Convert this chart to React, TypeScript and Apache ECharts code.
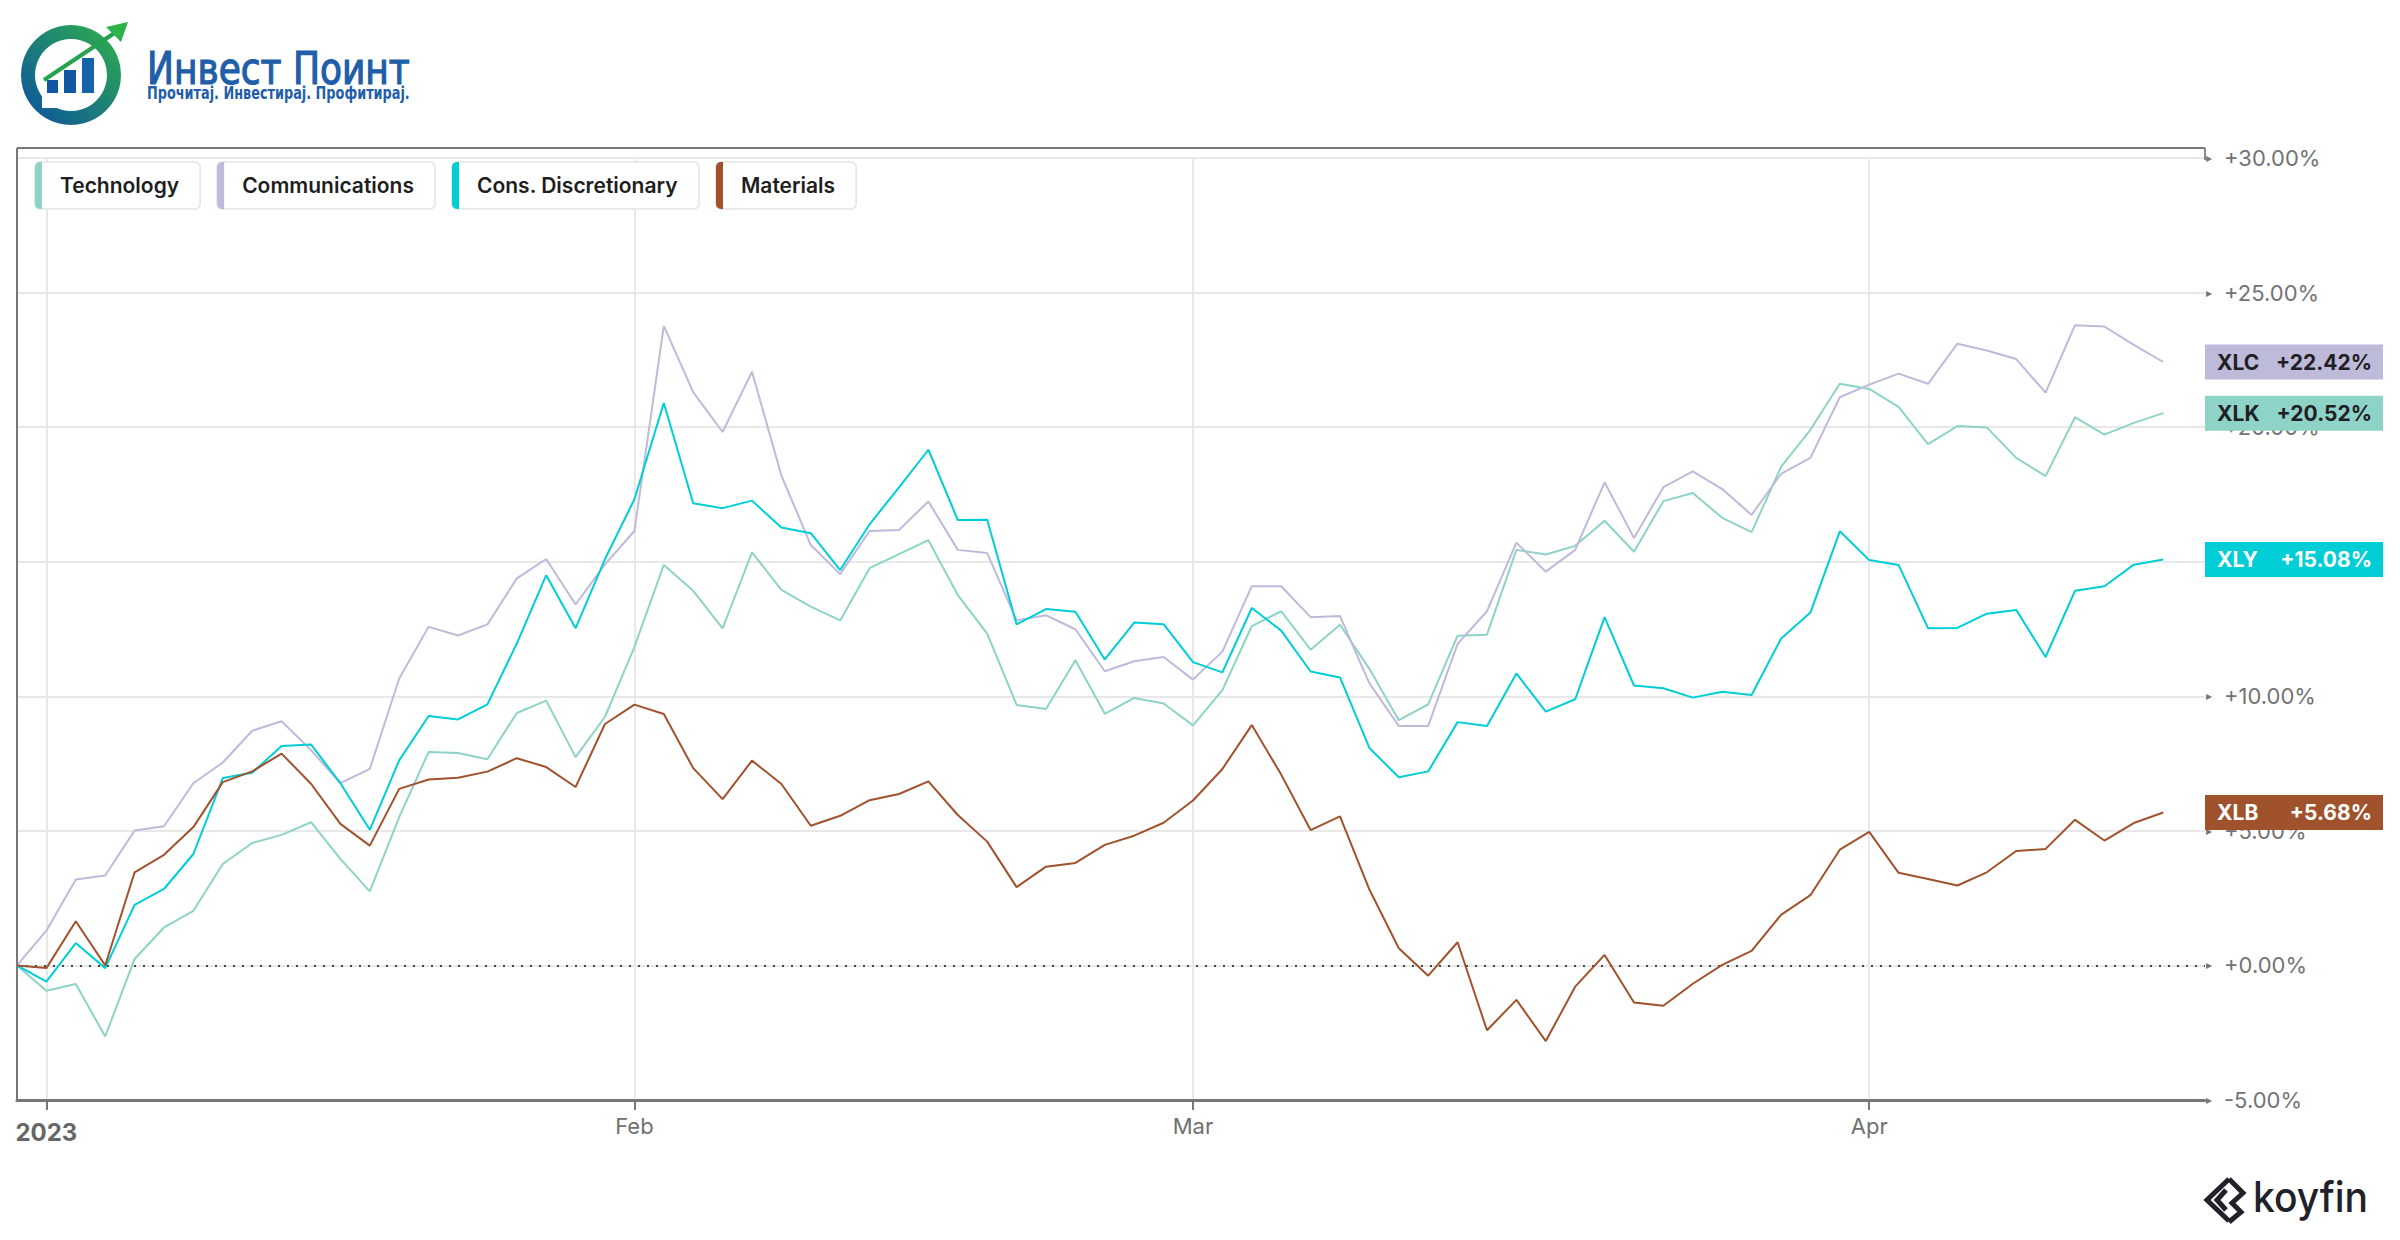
import React, { useEffect, useRef } from "react";
import * as echarts from "echarts";

// ---------------- DATA ----------------
const dates = [
  "2022-12-30",
  "2023-01-03", "2023-01-04", "2023-01-05", "2023-01-06", "2023-01-09", "2023-01-10", "2023-01-11", "2023-01-12", "2023-01-13",
  "2023-01-17", "2023-01-18", "2023-01-19", "2023-01-20", "2023-01-23", "2023-01-24", "2023-01-25", "2023-01-26", "2023-01-27",
  "2023-01-30", "2023-01-31",
  "2023-02-01", "2023-02-02", "2023-02-03", "2023-02-06", "2023-02-07", "2023-02-08", "2023-02-09", "2023-02-10", "2023-02-13",
  "2023-02-14", "2023-02-15", "2023-02-16", "2023-02-17", "2023-02-21", "2023-02-22", "2023-02-23", "2023-02-24", "2023-02-27",
  "2023-02-28",
  "2023-03-01", "2023-03-02", "2023-03-03", "2023-03-06", "2023-03-07", "2023-03-08", "2023-03-09", "2023-03-10", "2023-03-13",
  "2023-03-14", "2023-03-15", "2023-03-16", "2023-03-17", "2023-03-20", "2023-03-21", "2023-03-22", "2023-03-23", "2023-03-24",
  "2023-03-27", "2023-03-28", "2023-03-29", "2023-03-30", "2023-03-31",
  "2023-04-03", "2023-04-04", "2023-04-05", "2023-04-06", "2023-04-10", "2023-04-11", "2023-04-12", "2023-04-13", "2023-04-14",
  "2023-04-17", "2023-04-18",
];

const seriesNames = ["Technology", "Communications", "Cons. Discretionary", "Materials"];
const tickers = ["XLK", "XLC", "XLY", "XLB"];
const monthNames = ["Jan", "Feb", "Mar", "Apr", "May", "Jun", "Jul", "Aug", "Sep", "Oct", "Nov", "Dec"];

const techValues = [
  0, -0.94, -0.69, -2.64, 0.24, 1.41, 2.03, 3.77, 4.55, 4.85,
  5.32, 3.96, 2.75, 5.51, 7.93, 7.89, 7.66, 9.38, 9.84, 7.74,
  9.24, 11.83, 14.88, 13.92, 12.52, 15.35, 13.95, 13.33, 12.82, 14.76,
  15.28, 15.8, 13.76, 12.33, 9.68, 9.53, 11.34, 9.35, 9.94, 9.73,
  8.92, 10.23, 12.61, 13.16, 11.73, 12.66, 11.02, 9.11, 9.7, 12.25,
  12.29, 15.44, 15.27, 15.59, 16.52, 15.37, 17.25, 17.55, 16.63, 16.1,
  18.52, 19.9, 21.61, 21.42, 20.75, 19.37, 20.04, 19.99, 18.86, 18.18,
  20.37, 19.72, 20.16, 20.52,
];

const commValues = [
  0, 1.29, 3.19, 3.34, 5.01, 5.17, 6.77, 7.54, 8.72, 9.07,
  8.0, 6.77, 7.3, 10.66, 12.58, 12.26, 12.67, 14.38, 15.1, 13.41,
  14.9, 16.14, 23.76, 21.3, 19.82, 22.06, 18.2, 15.62, 14.54, 16.14,
  16.18, 17.24, 15.44, 15.32, 12.82, 13.01, 12.49, 10.93, 11.3, 11.46,
  10.62, 11.66, 14.09, 14.09, 12.94, 12.98, 10.48, 8.9, 8.9, 11.95,
  13.16, 15.71, 14.63, 15.44, 17.95, 15.88, 17.77, 18.36, 17.7, 16.74,
  18.26, 18.86, 21.11, 21.58, 21.99, 21.61, 23.1, 22.85, 22.53, 21.28,
  23.79, 23.74, 23.06, 22.42,
];

const consValues = [
  0, -0.6, 0.83, -0.1, 2.25, 2.84, 4.14, 6.96, 7.16, 8.15,
  8.21, 6.77, 5.04, 7.62, 9.27, 9.14, 9.7, 11.96, 14.5, 12.53,
  15.1, 17.32, 20.9, 17.17, 16.99, 17.27, 16.27, 16.06, 14.69, 16.39,
  17.76, 19.16, 16.55, 16.56, 12.67, 13.24, 13.14, 11.37, 12.74, 12.68,
  11.27, 10.89, 13.28, 12.44, 10.92, 10.7, 8.08, 6.99, 7.21, 9.04,
  8.9, 10.85, 9.43, 9.89, 12.94, 10.4, 10.3, 9.95, 10.17, 10.05,
  12.14, 13.11, 16.13, 15.06, 14.88, 12.53, 12.54, 13.07, 13.21, 11.46,
  13.92, 14.09, 14.89, 15.08,
];

const matValues = [
  0, -0.1, 1.64, 0.0, 3.46, 4.11, 5.14, 6.81, 7.21, 7.87,
  6.75, 5.26, 4.45, 6.56, 6.91, 6.97, 7.2, 7.7, 7.37, 6.63,
  8.97, 9.69, 9.34, 7.33, 6.18, 7.61, 6.74, 5.19, 5.56, 6.14,
  6.37, 6.84, 5.59, 4.6, 2.91, 3.67, 3.81, 4.48, 4.82, 5.3,
  6.13, 7.3, 8.93, 7.09, 5.03, 5.54, 2.82, 0.64, -0.38, 0.86,
  -2.41, -1.28, -2.81, -0.79, 0.39, -1.38, -1.5, -0.68, 0.02, 0.54,
  1.88, 2.61, 4.3, 4.96, 3.44, 3.21, 2.97, 3.46, 4.25, 4.33,
  5.41, 4.64, 5.29, 5.68,
];

const allValues = [techValues, commValues, consValues, matValues];
const colors = ["#8dd3c7", "#bebada", "#00ced6", "#a0522d"];
const labelTextColors = ["#1f2024", "#1f2024", "#ffffff", "#ffffff"];

// ---------------- HELPERS ----------------
const FONT = "Inter, 'Noto Sans', sans-serif";

function measure(text: string, font: string): number {
  const c = document.createElement("canvas").getContext("2d");
  if (!c) return text.length * 10;
  c.font = font;
  return c.measureText(text).width;
}

function fmtPct(v: number): string {
  return (v >= 0 ? "+" : "") + v.toFixed(2) + "%";
}

export default function App() {
  const ref = useRef<HTMLDivElement>(null);

  useEffect(() => {
    document.body.style.margin = "0";
    if (!ref.current) return;
    const chart = echarts.init(ref.current, undefined, { renderer: "svg" });

    // month ticks derived from dates
    const tickIdx: number[] = [];
    const tickLabel: Record<number, string> = {};
    for (let i = 1; i < dates.length; i++) {
      const m = dates[i].slice(5, 7);
      const pm = dates[i - 1].slice(5, 7);
      if (m !== pm) {
        tickIdx.push(i);
        const mi = parseInt(m, 10) - 1;
        tickLabel[i] = mi === 0 ? "{y|" + dates[i].slice(0, 4) + "}" : monthNames[mi];
      }
    }

    const plotLeft = 17;
    const plotRight = 2205;
    const plotTop = 158;
    const plotBottom = 1100;
    const frameTop = 148;
    const step = 29.4;
    const xMax = (plotRight - plotLeft) / step;

    // legend graphics
    const legendFont = "600 21px Inter";
    const legendEls: any[] = [];
    let lx = 35;
    const ly = 162;
    const lh = 47;
    seriesNames.forEach((name, i) => {
      const w = 25 + measure(name, legendFont) + 21;
      legendEls.push({
        type: "rect",
        z: 50,
        shape: { x: lx, y: ly, width: w, height: lh, r: 5 },
        style: { fill: "#ffffff", stroke: "#e3e3e3", lineWidth: 1.5 },
      });
      legendEls.push({
        type: "rect",
        z: 51,
        shape: { x: lx, y: ly, width: 7, height: lh, r: [5, 0, 0, 5] },
        style: { fill: colors[i] },
      });
      legendEls.push({
        type: "text",
        z: 52,
        style: {
          text: name,
          x: lx + 25,
          y: ly + lh / 2,
          verticalAlign: "middle",
          fontFamily: FONT,
          fontWeight: 600,
          fontSize: 21,
          fill: "#1e1e1e",
        },
      });
      lx += w + 17;
    });

    // logo text fitting
    const logoFamily = "'Liberation Sans Narrow', 'DejaVu Sans Condensed', 'Noto Sans', sans-serif";
    const title = "Инвест Поинт";
    const subtitle = "Прочитај. Инвестирај. Профитирај.";
    const titleW = measure(title, "44px " + logoFamily);
    const subW = measure(subtitle, "bold 17px " + logoFamily);
    const koyW = measure("koyfin", "500 42px Inter");

    const series: any[] = allValues.map((vals, si) => ({
      type: "line",
      name: seriesNames[si],
      data: vals.map((v, i) => [i, v]),
      showSymbol: false,
      symbol: "none",
      lineStyle: { color: colors[si], width: 2 },
      itemStyle: { color: colors[si] },
      z: 3 + si,
      endLabel: {
        show: true,
        distance: plotRight - (plotLeft + (vals.length - 1) * step),
        formatter: () => "{n|" + tickers[si] + "}{v|" + fmtPct(vals[vals.length - 1]) + "}",
        backgroundColor: colors[si],
        padding: [6, 11, 6, 12],
        rich: {
          n: { fontFamily: FONT, fontWeight: "bold", fontSize: 21, color: labelTextColors[si], width: 65, lineHeight: 23 },
          v: { fontFamily: FONT, fontWeight: "bold", fontSize: 21, color: labelTextColors[si], width: 90, align: "right", lineHeight: 23 },
        },
      },
      markLine:
        si === 0
          ? {
              silent: true,
              symbol: "none",
              label: { show: false },
              lineStyle: { type: [2, 7], color: "#444", width: 2 },
              data: [{ yAxis: 0 }],
              z: 2,
            }
          : undefined,
    }));

    const ink = "#1f2228";
    const option: any = {
      animation: false,
      backgroundColor: "#ffffff",
      grid: { left: plotLeft, right: 2400 - plotRight, top: plotTop, bottom: 1240 - plotBottom, containLabel: false },
      xAxis: {
        type: "value",
        min: 0,
        max: xMax,
        axisLine: { show: true, onZero: false, lineStyle: { color: "#777", width: 3 } },
        axisTick: { show: true, customValues: tickIdx, length: 10, lineStyle: { color: "#777", width: 2 } },
        axisLabel: {
          customValues: tickIdx,
          formatter: (v: number) => tickLabel[Math.round(v)] || "",
          margin: 15,
          color: "#707070",
          fontSize: 22,
          fontFamily: FONT,
          rich: { y: { fontFamily: FONT, fontWeight: "bold", fontSize: 24, color: "#666", padding: [5, 0, 0, 0] } },
        },
        splitLine: { show: true, lineStyle: { color: "#e8e8e8", width: 2 } },
      },
      yAxis: {
        type: "value",
        position: "right",
        min: -5,
        max: 30,
        interval: 5,
        axisLine: { show: true, lineStyle: { color: "#888", width: 2 } },
        axisTick: { show: false },
        axisLabel: {
          margin: 1,
          formatter: (v: number) => "{t|▸}{v|" + fmtPct(v) + "}",
          rich: {
            t: { fontFamily: "DejaVu Sans", fontSize: 12, color: "#777", width: 18 },
            v: { fontFamily: FONT, fontSize: 22, color: "#737373" },
          },
        },
        splitLine: { show: true, lineStyle: { color: "#e8e8e8", width: 2 } },
      },
      series,
      graphic: [
        // frame
        { type: "line", z: 10, shape: { x1: plotLeft, y1: frameTop, x2: plotRight, y2: frameTop }, style: { stroke: "#777", lineWidth: 2 } },
        { type: "line", z: 10, shape: { x1: plotLeft, y1: frameTop, x2: plotLeft, y2: plotBottom }, style: { stroke: "#777", lineWidth: 2 } },
        { type: "line", z: 10, shape: { x1: plotRight, y1: frameTop, x2: plotRight, y2: plotTop + 2 }, style: { stroke: "#888", lineWidth: 2 } },
        // legend
        ...legendEls,
        // logo
        {
          type: "ring",
          shape: { cx: 71, cy: 75, r: 50, r0: 36 },
          style: {
            fill: new echarts.graphic.LinearGradient(1, 0, 0, 1, [
              { offset: 0, color: "#2fb24a" },
              { offset: 1, color: "#0b4ea2" },
            ]),
          },
        },
        { type: "rect", shape: { x: 42, y: 76, width: 30, height: 32 }, style: { fill: "#ffffff" } },
        { type: "rect", shape: { x: 47, y: 80, width: 11, height: 13 }, style: { fill: "#1157a4" } },
        { type: "rect", shape: { x: 64, y: 70, width: 12, height: 23 }, style: { fill: "#1157a4" } },
        { type: "rect", shape: { x: 82, y: 58, width: 12, height: 35 }, style: { fill: "#1562a8" } },
        { type: "line", shape: { x1: 44, y1: 80, x2: 116, y2: 32 }, style: { stroke: "#25a24c", lineWidth: 4 } },
        { type: "polygon", shape: { points: [[128, 22], [106, 27], [121, 42]] }, style: { fill: "#2cb34a" } },
        {
          type: "text",
          x: 147,
          y: 69,
          scaleX: 263 / titleW,
          style: {
            text: title, x: 0, y: 0, verticalAlign: "middle", fontFamily: logoFamily, fontSize: 44,
            fill: "#1f5ea8", stroke: "#1f5ea8", lineWidth: 1.2,
          },
        },
        {
          type: "text",
          x: 147,
          y: 93,
          scaleX: 263 / subW,
          style: { text: subtitle, x: 0, y: 0, verticalAlign: "middle", fontFamily: logoFamily, fontWeight: "bold", fontSize: 17, fill: "#1f5ea8" },
        },
        // koyfin
        { type: "polyline", shape: { points: [[2229, 1179], [2207, 1200], [2229, 1221]] }, style: { stroke: ink, lineWidth: 5, fill: null } },
        { type: "polyline", shape: { points: [[2229, 1179], [2243, 1193], [2232, 1203], [2241, 1212], [2229, 1222]] }, style: { stroke: ink, lineWidth: 5, fill: null } },
        { type: "polyline", shape: { points: [[2226, 1190], [2217, 1200], [2226, 1210]] }, style: { stroke: ink, lineWidth: 5, fill: null } },
        {
          type: "text",
          x: 2253,
          y: 1197,
          scaleX: 115 / koyW,
          style: { text: "koyfin", x: 0, y: 0, verticalAlign: "middle", fontFamily: FONT, fontWeight: 500, fontSize: 42, fill: ink },
        },
      ],
    };

    chart.setOption(option);
    return () => chart.dispose();
  }, []);

  return <div ref={ref} style={{ width: 2400, height: 1240 }} />;
}
